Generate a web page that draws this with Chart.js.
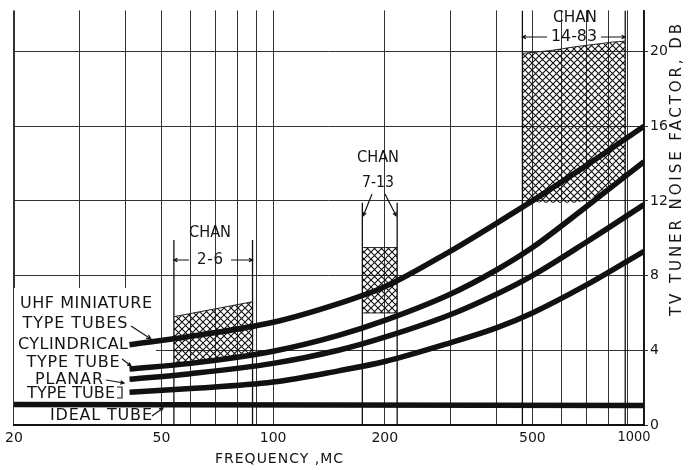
<!DOCTYPE html>
<html>
<head>
<meta charset="utf-8">
<script src="https://cdn.jsdelivr.net/npm/chart.js@4.4.1/dist/chart.umd.min.js"></script>
<style>
  html, body { margin: 0; padding: 0; background: #fff; }
  #wrap { width: 689px; height: 470px; }
</style>
</head>
<body>
<div id="wrap"><canvas id="noiseChart" width="689" height="470"></canvas></div>
<script>
// axis ticks
const xGridValues = [20, 30, 40, 50, 60, 70, 80, 90, 100, 200, 300, 400, 500, 600, 700, 800, 900, 1000];
const xTickLabels = [20, 50, 100, 200, 500, 1000];
const yTicks = [0, 4, 8, 12, 16, 20];

// tuner noise factor (db) vs frequency (mc)
const curveFreq = [41, 60, 100, 150, 200, 300, 400, 500, 700, 1000];
const uhfMiniature = [4.3, 4.75, 5.5, 6.5, 7.4, 9.3, 10.8, 12.0, 13.9, 16.0];
const cylindrical = [3.0, 3.3, 3.95, 4.8, 5.6, 7.0, 8.3, 9.5, 11.7, 14.1];
const planarA = [2.45, 2.75, 3.3, 4.0, 4.7, 5.9, 7.0, 8.0, 9.8, 11.8];
const planarB = [1.75, 1.95, 2.3, 2.9, 3.4, 4.4, 5.2, 6.0, 7.5, 9.3];
const idealFreq = [20, 1000];
const idealTube = [1.1, 1.05];

// channel bands (hatched)
const band26Freq = [54, 88];
const band26Low = [3.2, 3.75];
const band26High = [5.8, 6.6];
const band713Freq = [174, 216];
const band713Low = [6.0, 6.0];
const band713High = [9.5, 9.5];
const band1483Freq = [470, 560, 650, 750, 820, 890];
const band1483Low = [12.0, 11.9, 11.9, 12.3, 12.8, 13.4];
const band1483High = [19.9, 20.05, 20.25, 20.4, 20.5, 20.55];
const bandEdgeFreq = [54, 88, 174, 216, 470, 890];
const bandEdgeTop = [9.9, 9.9, 11.9, 11.9, 22.2, 22.2];

const canvas = document.getElementById('noiseChart');
const mainCtx = canvas.getContext('2d');

function hatch() {
  const s = 7;
  const c = document.createElement('canvas');
  c.width = s; c.height = s;
  const g = c.getContext('2d');
  g.strokeStyle = '#111';
  g.lineWidth = 1.1;
  g.beginPath();
  g.moveTo(0, 0); g.lineTo(s, s);
  g.moveTo(s, 0); g.lineTo(0, s);
  g.stroke();
  return mainCtx.createPattern(c, 'repeat');
}
const pattern = hatch();

const pts = (xs, ys) => xs.map((x, i) => ({ x: x, y: ys[i] }));

const curveStyle = { borderColor: '#111', borderWidth: 5.5, pointRadius: 0, fill: false, cubicInterpolationMode: 'monotone', order: 1 };
const edgeStyle = { borderColor: '#222', borderWidth: 1, pointRadius: 0, fill: false, order: 2 };

const datasets = [
  { label: 'UHF miniature type tubes', data: pts(curveFreq, uhfMiniature), ...curveStyle },
  { label: 'Cylindrical type tube', data: pts(curveFreq, cylindrical), ...curveStyle },
  { label: 'Planar type tube', data: pts(curveFreq, planarA), ...curveStyle },
  { label: 'Planar type tube 2', data: pts(curveFreq, planarB), ...curveStyle },
  { label: 'Ideal tube', data: pts(idealFreq, idealTube), ...curveStyle },
  { label: 'chan 2-6 low', data: pts(band26Freq, band26Low), ...edgeStyle },
  { label: 'chan 2-6', data: pts(band26Freq, band26High), ...edgeStyle, fill: '-1', backgroundColor: pattern },
  { label: 'chan 7-13 low', data: pts(band713Freq, band713Low), ...edgeStyle },
  { label: 'chan 7-13', data: pts(band713Freq, band713High), ...edgeStyle, fill: '-1', backgroundColor: pattern },
  { label: 'chan 14-83 low', data: pts(band1483Freq, band1483Low), ...edgeStyle, borderWidth: 0, cubicInterpolationMode: 'monotone' },
  { label: 'chan 14-83', data: pts(band1483Freq, band1483High), ...edgeStyle, fill: '-1', backgroundColor: pattern, cubicInterpolationMode: 'monotone' }
];
bandEdgeFreq.forEach((f, i) => {
  datasets.push({ label: 'edge ' + f, data: [{ x: f, y: 0 }, { x: f, y: bandEdgeTop[i] }], ...edgeStyle, borderColor: '#111', borderWidth: 1.3 });
});

function fitText(c, text, cx, cy, w, size) {
  c.save();
  c.font = size + 'px "DejaVu Sans", sans-serif';
  c.textBaseline = 'middle';
  c.textAlign = 'left';
  c.fillStyle = '#151515';
  const m = c.measureText(text).width;
  if (w > m && 'letterSpacing' in c && text.length > 1) {
    c.letterSpacing = ((w - m) / (text.length - 1)) + 'px';
    c.fillText(text, cx - w / 2, cy);
  } else {
    c.translate(cx - w / 2, cy);
    c.scale(w / m, 1);
    c.fillText(text, 0, 0);
  }
  c.restore();
}

function arrow(c, x1, y1, x2, y2, head) {
  const a = Math.atan2(y2 - y1, x2 - x1);
  const h = head || 5;
  c.beginPath();
  c.moveTo(x1, y1); c.lineTo(x2, y2);
  c.moveTo(x2 - h * Math.cos(a - 0.45), y2 - h * Math.sin(a - 0.45));
  c.lineTo(x2, y2);
  c.lineTo(x2 - h * Math.cos(a + 0.45), y2 - h * Math.sin(a + 0.45));
  c.stroke();
}

const annotations = {
  id: 'annotations',
  beforeDatasetsDraw(chart) {
    const c = chart.ctx;
    c.save();
    c.fillStyle = '#fff';
    c.fillRect(14, 288, 142, 114);
    c.fillRect(14, 407, 142, 17);
    c.restore();
  },
  afterDraw(chart) {
    const c = chart.ctx;
    const x = chart.scales.x, y = chart.scales.y;
    const px = v => x.getPixelForValue(v);
    c.save();
    c.strokeStyle = '#151515';
    c.lineWidth = 1.2;

    // curve labels
    fitText(c, 'UHF MINIATURE', 86, 304, 132, 16);
    fitText(c, 'TYPE TUBES', 75, 324, 105, 16);
    arrow(c, 131, 326, 151, 339, 5);
    fitText(c, 'CYLINDRICAL', 73, 345, 110, 16);
    fitText(c, 'TYPE TUBE', 73, 363, 93, 16);
    arrow(c, 122, 359, 131, 366, 4);
    fitText(c, 'PLANAR', 69, 380, 68, 16);
    arrow(c, 106, 380, 124, 383, 4);
    fitText(c, 'TYPE TUBE', 71, 394, 88, 16);
    c.beginPath();
    c.moveTo(117, 387); c.lineTo(122, 387); c.lineTo(122, 398); c.lineTo(117, 398);
    c.stroke();
    fitText(c, 'IDEAL TUBE', 101, 416, 102, 16);
    arrow(c, 152, 416, 163, 408, 4);

    // channel 2-6
    fitText(c, 'CHAN', 210, 233, 42, 15);
    fitText(c, '2-6', 210, 260, 26, 15);
    arrow(c, 189, 260, px(54), 260, 4);
    arrow(c, 231, 260, px(88), 260, 4);

    // channel 7-13
    fitText(c, 'CHAN', 378, 158, 42, 15);
    fitText(c, '7-13', 378, 183, 32, 15);
    arrow(c, 372, 194, px(174) + 1, y.getPixelForValue(11.2), 4);
    arrow(c, 385, 194, px(216) - 1, y.getPixelForValue(11.2), 4);

    // channel 14-83
    fitText(c, 'CHAN', 575, 18, 44, 16);
    fitText(c, '14-83', 574, 37, 46, 16);
    arrow(c, 547, 37, px(470), 37, 4);
    arrow(c, 601, 37, px(890), 37, 4);

    // x tick label at the right end sits inside the frame
    fitText(c, '1000', px(1000) - 10, 437, 33, 14);

    // axis titles
    fitText(c, 'FREQUENCY ,MC', 279, 459, 128, 14);
    c.save();
    c.translate(677, 170);
    c.rotate(-Math.PI / 2);
    fitText(c, 'TV TUNER NOISE FACTOR, DB', 0, 0, 292, 15);
    c.restore();
    c.restore();
  }
};

new Chart(canvas, {
  type: 'line',
  data: { datasets: datasets },
  plugins: [annotations],
  options: {
    responsive: false,
    animation: false,
    layout: { padding: { left: 13, top: 9, right: 0, bottom: 0 } },
    plugins: { legend: { display: false }, tooltip: { enabled: false } },
    scales: {
      x: {
        type: 'logarithmic', min: 20, max: 1000,
        afterFit: s => { s.height = 45; },
        afterBuildTicks: s => { s.ticks = xGridValues.map(v => ({ value: v })); },
        ticks: { autoSkip: false, maxRotation: 0, padding: 5, color: '#151515', font: { family: 'DejaVu Sans', size: 14 },
                 callback: v => (xTickLabels.includes(v) && v !== 1000) ? String(v) : '' },
        grid: { color: '#333', lineWidth: ctx => (ctx.tick && ctx.tick.value === 20 ? 2 : 1), drawTicks: false },
        border: { display: true, color: '#111', width: 2 }
      },
      y: {
        position: 'right', min: 0, max: 22.2,
        afterFit: s => { s.width = 45; },
        afterBuildTicks: s => { s.ticks = yTicks.map(v => ({ value: v })); },
        ticks: { padding: 2, color: '#151515', font: { family: 'DejaVu Sans', size: 14 }, callback: v => String(v) },
        grid: { color: '#333', lineWidth: 1, tickLength: 4 },
        border: { display: true, color: '#111', width: 1.5 }
      }
    }
  }
});
</script>
</body>
</html>
